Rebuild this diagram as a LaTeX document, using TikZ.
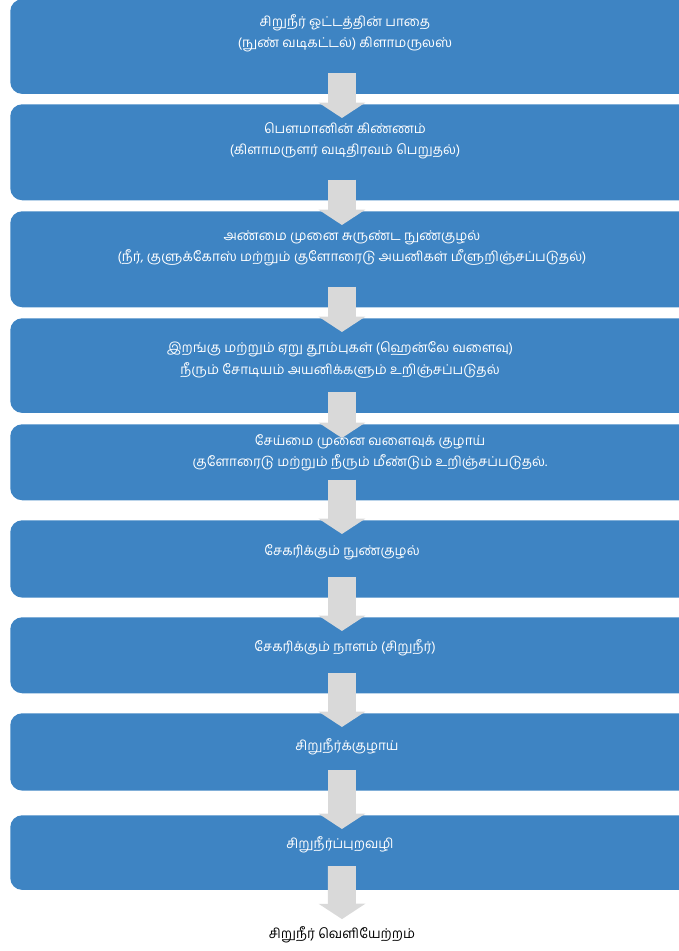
\documentclass[tikz,border=0pt]{standalone}
\usepackage{fontspec}
\usetikzlibrary{positioning,arrows.meta,calc}
\newfontfamily\tamilfont[Script=Tamil]{Hind Madurai}
\definecolor{stepBlue}{RGB}{62,132,195}
\definecolor{flowGray}{RGB}{217,217,217}

\begin{document}
\begin{tikzpicture}[
    x=0.75pt, y=-0.75pt,
    stagebox/.style={rectangle, rounded corners=9pt, fill=stepBlue, draw=none, anchor=north west, minimum width=514pt},
    stagetext/.style={font=\tamilfont\fontsize{10.1}{16}\selectfont, text=white, align=center},
    flow/.style={draw=flowGray, line width=21pt, -{Triangle[width=34.5pt,length=11.5pt]}, shorten <=0pt}
]
  \useasboundingbox (0,0) rectangle (679,951);
  \clip (0,0) rectangle (679,951);

  % boxes
  \node[stagebox, minimum height=71pt] (b1) at (10,-1) {};
  \node[stagebox, minimum height=72pt] (b2) at (10,104) {};
  \node[stagebox, minimum height=72pt] (b3) at (10,211) {};
  \node[stagebox, minimum height=71pt] (b4) at (10,318) {};
  \node[stagebox, minimum height=57pt] (b5) at (10,424) {};
  \node[stagebox, minimum height=58pt] (b6) at (10,520) {};
  \node[stagebox, minimum height=57pt] (b7) at (10,617) {};
  \node[stagebox, minimum height=58pt] (b8) at (10,713) {};
  \node[stagebox, minimum height=56pt] (b9) at (10,815) {};

  % texts
  \node[stagetext] (t1) at (345,33) {சிறுநீர் ஓட்டத்தின் பாதை\\(நுண் வடிகட்டல்) கிளாமருலஸ்};
  \node[stagetext] (t2) at (345,141) {பௌமானின் கிண்ணம்\\(கிளாமருளர் வடிதிரவம் பெறுதல்)};
  \node[stagetext] (t3) at (352,248) {அண்மை முனை சுருண்ட நுண்குழல்\\(நீர், குளுக்கோஸ் மற்றும் குளோரைடு அயனிகள் மீளுறிஞ்சப்படுதல்)};
  \node[stagetext] (t4) at (340,360) {இறங்கு மற்றும் ஏறு தூம்புகள் (ஹென்லே வளைவு)\\நீரும் சோடியம் அயனிக்களும் உறிஞ்சப்படுதல்};
  \node[stagetext] (t5) at (370,453) {சேய்மை முனை வளைவுக் குழாய்\\குளோரைடு மற்றும் நீரும் மீண்டும் உறிஞ்சப்படுதல்.};
  \node[stagetext] (t6) at (342,552) {சேகரிக்கும் நுண்குழல்};
  \node[stagetext] (t7) at (345,648) {சேகரிக்கும் நாளம் (சிறுநீர்)};
  \node[stagetext] (t8) at (347,747) {சிறுநீர்க்குழாய்};
  \node[stagetext] (t9) at (340,845) {சிறுநீர்ப்புறவழி};
  \node[stagetext, text=black] (out) at (342,935) {சிறுநீர் வெளியேற்றம்};

  % arrows
  \foreach \a/\b in {b1/b2, b2/b3, b3/b4, b4/b5, b5/b6, b6/b7, b7/b8, b8/b9}
    \draw[flow] ($(\a.south)+(-11,-21)$) -- ($(\b.north)+(-11,14)$);
  \draw[flow] ($(b9.south)+(-11,-24)$) -- ($(out.north)+(0,-3)$);
\end{tikzpicture}
\end{document}
